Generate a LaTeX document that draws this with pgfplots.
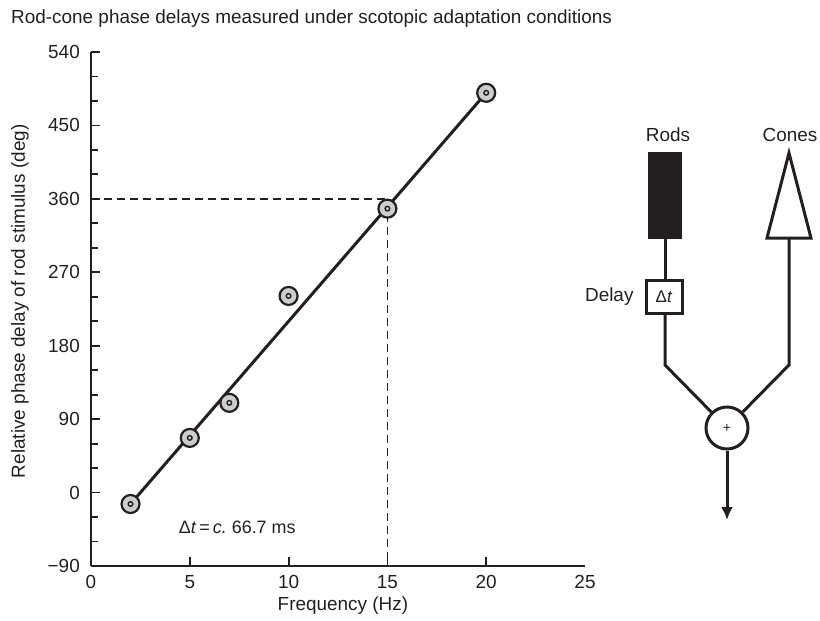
\documentclass[border=0pt]{standalone}
\usepackage{fontspec}
\setmainfont{Liberation Sans}
\usepackage{pgfplots}
\pgfplotsset{compat=1.18}
\usetikzlibrary{arrows.meta}
\definecolor{ink}{RGB}{35,31,32}
\definecolor{dotfill}{RGB}{205,205,205}
\newcommand{\lab}{\fontsize{19}{22}\selectfont}
\begin{document}
\begin{tikzpicture}
\path[use as bounding box] (0,0) rectangle (820bp,-621bp);
% title
\node[anchor=west, inner sep=0pt, font=\lab, text=ink] at (11bp,-19bp)
  {Rod-cone phase delays measured under scotopic adaptation conditions};
\begin{axis}[
  at={(91bp,-566bp)}, anchor=south west,
  scale only axis, width=494bp, height=514bp,
  xmin=0, xmax=25, ymin=-90, ymax=540,
  clip=false,
  axis lines*=left,
  axis line style={ink, line width=2bp},
  every tick/.style={ink, line width=1.8bp},
  tick align=inside,
  major tick length=9bp, minor tick length=7bp,
  xtick={5,10,15,20}, xticklabels={5,10,15,20},
  extra x ticks={0,25}, extra x tick labels={0,25},
  extra x tick style={major tick length=0pt},
  ytick={-90,0,90,180,270,360,450,540},
  yticklabels={−90,0,90,180,270,360,450,540},
  minor y tick num=2,
  tick label style={font=\lab, text=ink},
  xticklabel style={inner sep=0pt, yshift=-9bp},
  yticklabel style={inner sep=0pt, xshift=-11bp},
  xlabel={Frequency (Hz)},
  ylabel={Relative phase delay of rod stimulus (deg)},
  every axis x label/.style={at={(axis description cs:0.51,0)}, anchor=center,
    yshift=-40bp, font=\lab, text=ink},
  every axis y label/.style={at={(axis description cs:-0.1437,0.515)}, anchor=center,
    rotate=90, font=\lab, text=ink},
]
% guide lines at 15 Hz / 360 deg
\addplot[ink, line width=1.8bp, dash pattern=on 8bp off 5bp] coordinates {(0,360) (15,360) (15,-90)};
% fitted line
\addplot[ink, line width=3bp] coordinates {(2,-14) (20,490)};
% measured phase delays
\addplot[only marks, mark=*, mark size=9bp,
  mark options={fill=dotfill, draw=ink, line width=2.2bp}]
  coordinates {(2,-14) (5,67) (7,110) (10,241) (15,348) (20,490)};
\addplot[only marks, mark=*, mark size=2.3bp,
  mark options={fill=dotfill, draw=ink, line width=1.4bp}]
  coordinates {(2,-14) (5,67) (7,110) (10,241) (15,348) (20,490)};
\node[font=\fontsize{18}{21}\selectfont, text=ink] at (axis cs:7.4,-42)
  {Δ\textit{t}\,=\,\textit{c.}\ 66.7 ms};
\end{axis}
% rod/cone summation scheme
\begin{scope}[x=1bp, y=-1bp, draw=ink, line width=3bp]
  \node[font=\lab, text=ink] at (668,135) {Rods};
  \node[font=\lab, text=ink] at (790,135) {Cones};
  \fill[ink] (648,152) rectangle (682,239);
  \draw (665,239) -- (665,280);
  \draw[fill=white] (646,280) rectangle (682,313);
  \node[font=\fontsize{17}{20}\selectfont, text=ink] at (664,297) {Δ\textit{t}};
  \node[anchor=east, inner sep=0pt, font=\lab, text=ink] at (635,297) {Delay};
  \draw[line join=miter] (789,153) -- (811,238) -- (767,238) -- cycle;
  \node[circle, draw=ink, line width=3bp, minimum size=42bp, inner sep=0pt,
        font=\fontsize{14}{16}\selectfont, text=ink] (sum) at (727,428) {+};
  \draw[line join=miter] (665,313) -- (665,365) -- (sum);
  \draw[line join=miter] (789,238) -- (789,365) -- (sum);
  \draw[-{Latex[length=13bp, width=12bp]}, fill=ink] (sum.south) -- (727,520);
\end{scope}
\end{tikzpicture}
\end{document}
